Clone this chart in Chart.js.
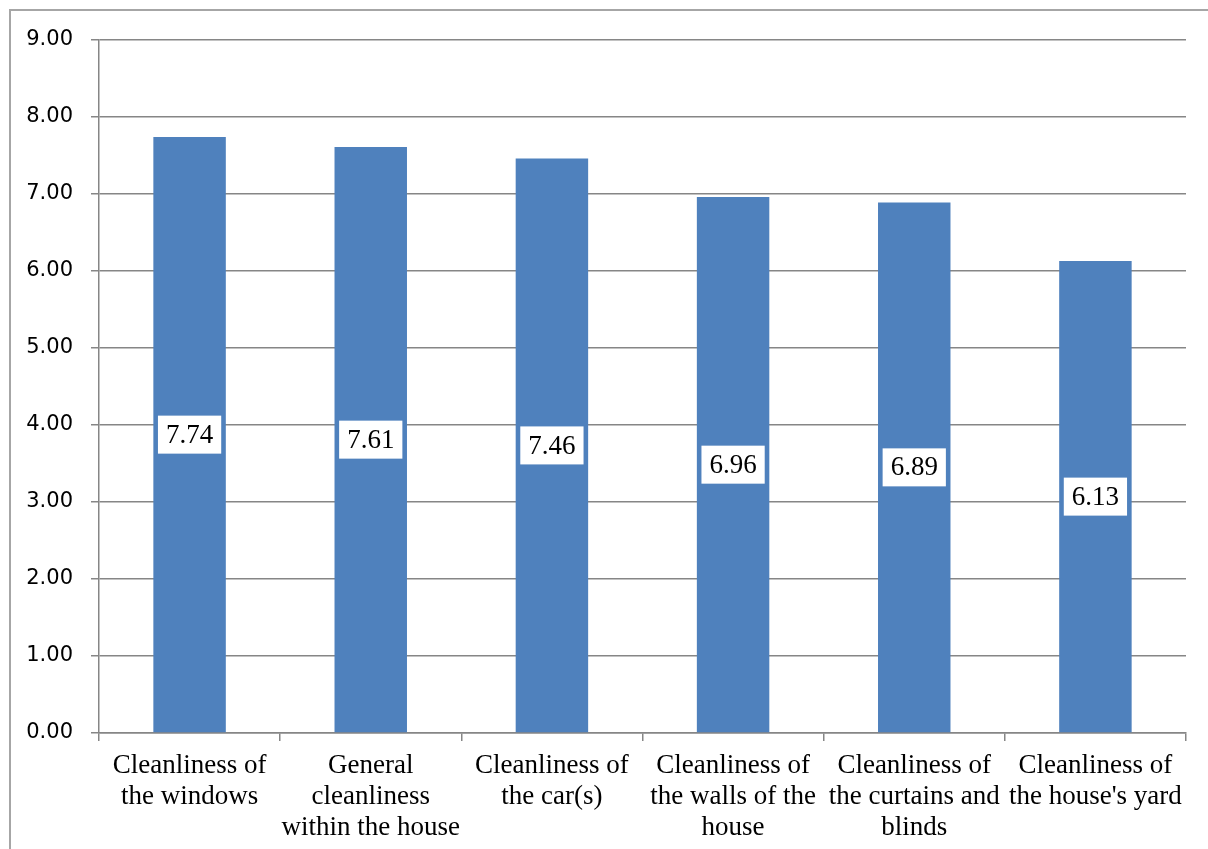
<!DOCTYPE html>
<html>
<head>
<meta charset="utf-8">
<script src="https://cdn.jsdelivr.net/npm/chart.js@4/dist/chart.umd.min.js"></script>
<style>
  html, body { margin: 0; padding: 0; background: #fff; overflow: hidden; }
  #wrap { position: absolute; left: 0; top: 0; width: 1208px; height: 849px; }
  #frame { position: absolute; left: 9px; top: 9px; width: 1400px; height: 1000px; border: 2px solid #a6a6a6; pointer-events: none; }
</style>
</head>
<body>
<div id="wrap">
  <canvas id="chart" width="1208" height="849"></canvas>
</div>
<div id="frame"></div>
<script>
// categories (split into lines the way they wrap on the axis)
const categories = [
  ["Cleanliness of", "the windows"],
  ["General", "cleanliness", "within the house"],
  ["Cleanliness of", "the car(s)"],
  ["Cleanliness of", "the walls of the", "house"],
  ["Cleanliness of", "the curtains and", "blinds"],
  ["Cleanliness of", "the house's yard"]
];
const scores = [7.74, 7.61, 7.46, 6.96, 6.89, 6.13];
const yTicks = [0, 1, 2, 3, 4, 5, 6, 7, 8, 9];

const gridColor = '#868686';

// white boxes with the value, drawn halfway up each bar
const valueBoxes = {
  id: 'valueBoxes',
  afterDatasetsDraw(chart) {
    const ctx = chart.ctx;
    const meta = chart.getDatasetMeta(0);
    ctx.save();
    ctx.font = '27px "Liberation Serif", "Times New Roman", serif';
    ctx.textAlign = 'center';
    ctx.textBaseline = 'middle';
    meta.data.forEach((bar, i) => {
      const txt = scores[i].toFixed(2);
      const cy = (bar.y + bar.base) / 2;
      const w = ctx.measureText(txt).width + 16;
      const h = 38;
      ctx.fillStyle = '#ffffff';
      ctx.fillRect(bar.x - w / 2, cy - h / 2, w, h);
      ctx.fillStyle = '#000000';
      ctx.fillText(txt, bar.x, cy + 1);
    });
    ctx.restore();
  }
};

new Chart(document.getElementById('chart'), {
  type: 'bar',
  data: {
    labels: categories,
    datasets: [{
      data: scores,
      backgroundColor: '#4f81bd',
      borderWidth: 0,
      barPercentage: 0.4,
      categoryPercentage: 1.0
    }]
  },
  options: {
    responsive: false,
    animation: false,
    events: [],
    layout: { padding: { top: 40, right: 22, left: 0, bottom: 0 } },
    plugins: {
      legend: { display: false },
      tooltip: { enabled: false }
    },
    scales: {
      x: {
        grid: {
          offset: true,
          drawOnChartArea: false,
          drawTicks: true,
          tickLength: 8,
          color: gridColor,
          lineWidth: 1.5
        },
        border: { display: true, color: gridColor, width: 1.5 },
        ticks: {
          color: '#000',
          padding: 9,
          maxRotation: 0,
          autoSkip: false,
          font: { family: '"Liberation Serif", "Times New Roman", serif', size: 27, lineHeight: 1.15 }
        },
        afterFit(scale) { scale.height = 116; }
      },
      y: {
        min: 0,
        max: 9,
        afterBuildTicks(scale) { scale.ticks = yTicks.map(v => ({ value: v })); },
        grid: {
          color: gridColor,
          lineWidth: 1.5,
          tickLength: 8
        },
        border: { display: true, color: gridColor, width: 1.5 },
        ticks: {
          color: '#000',
          padding: 18,
          font: { family: '"DejaVu Sans", Verdana, sans-serif', size: 21 },
          callback: v => Number(v).toFixed(2)
        },
        afterFit(scale) { scale.width = 99; }
      }
    }
  },
  plugins: [valueBoxes]
});
</script>
</body>
</html>
